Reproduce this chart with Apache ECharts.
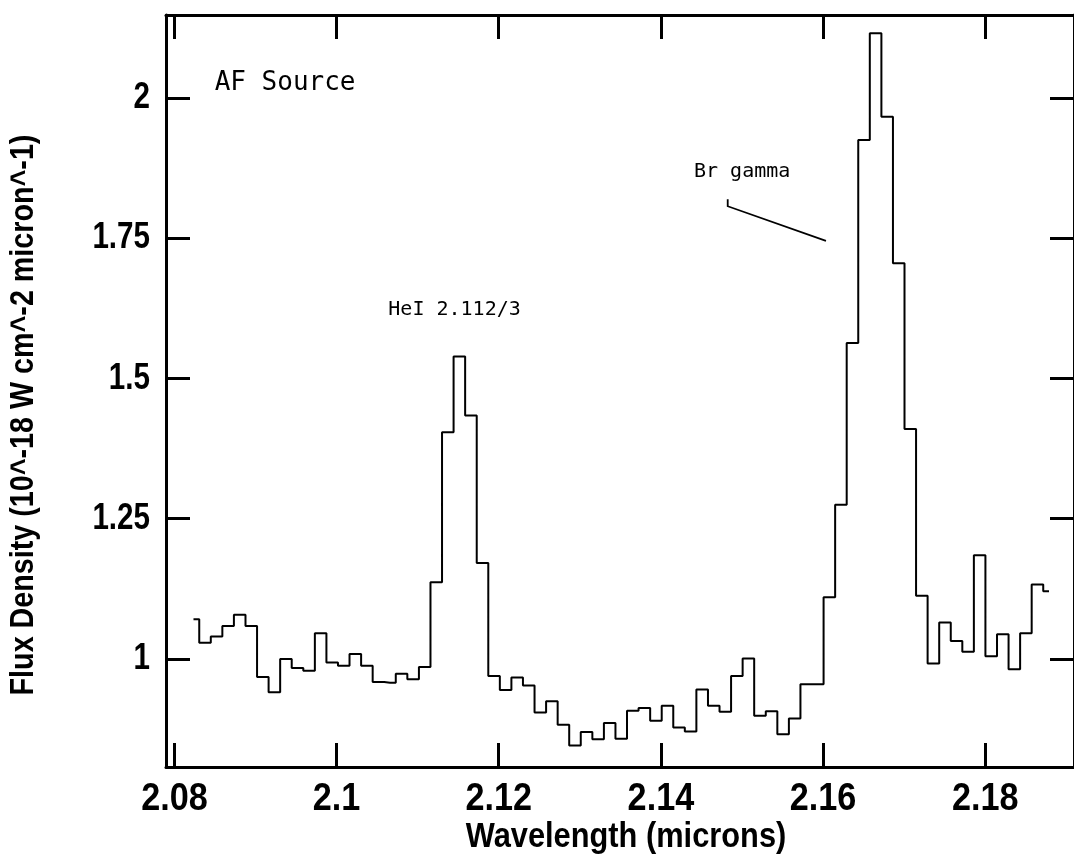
<!DOCTYPE html>
<html><head><meta charset="utf-8">
<script src="https://cdn.jsdelivr.net/npm/echarts@6/dist/echarts.min.js"></script>
<style>html,body{margin:0;padding:0;background:#fff}#c{width:1074px;height:855px}</style>
</head><body><div id="c"></div><script>
// Wavelength grid (microns)
const wavelength = [
2.08235,2.08377,2.08520,2.08662,2.08805,2.08948,2.09090,2.09233,2.09375,2.09518,
2.09661,2.09803,2.09946,2.10088,2.10231,2.10374,2.10516,2.10659,2.10801,2.10944,
2.11087,2.11229,2.11372,2.11514,2.11657,2.11800,2.11942,2.12085,2.12227,2.12370,
2.12513,2.12655,2.12798,2.12940,2.13083,2.13226,2.13368,2.13511,2.13653,2.13796,
2.13939,2.14081,2.14224,2.14366,2.14509,2.14652,2.14794,2.14937,2.15079,2.15222,
2.15365,2.15507,2.15650,2.15792,2.15935,2.16078,2.16220,2.16363,2.16505,2.16648,
2.16791,2.16933,2.17076,2.17218,2.17361,2.17504,2.17646,2.17789,2.17931,2.18074,
2.18217,2.18359,2.18502,2.18644,2.18787];
// Flux density (10^-18 W cm^-2 micron^-1)
const flux = [
1.071,1.029,1.040,1.059,1.079,1.059,0.968,0.941,1.000,0.984,
0.979,1.046,0.994,0.988,1.009,0.988,0.959,0.958,0.974,0.964,
0.986,1.137,1.404,1.539,1.434,1.171,0.970,0.945,0.967,0.953,
0.905,0.925,0.883,0.846,0.870,0.857,0.886,0.858,0.908,0.913,
0.890,0.917,0.878,0.871,0.946,0.917,0.906,0.970,1.001,0.899,
0.907,0.866,0.894,0.955,0.955,1.110,1.275,1.563,1.925,2.115,
1.966,1.705,1.410,1.113,0.992,1.065,1.032,1.013,1.185,1.005,
1.044,0.982,1.046,1.133,1.121];
const xTicks = [2.08,2.10,2.12,2.14,2.16,2.18];
const xTickLabels = ['2.08','2.1','2.12','2.14','2.16','2.18'];
const yTicks = [1,1.25,1.5,1.75,2];
const yTickLabels = ['1','1.25','1.5','1.75','2'];
const xRange = [2.07896, 2.19095];
const yRange = [0.8077, 2.1475];
const xTitle = 'Wavelength (microns)';
const yTitle = 'Flux Density (10^-18 W cm^-2 micron^-1)';
const notes = [
  {text:'AF Source', x:2.08496, y:2.0259, size:26},
  {text:'HeI 2.112/3', x:2.10638, y:1.6216, size:20},
  {text:'Br gamma', x:2.14408, y:1.8674, size:20}
];
const leader = [[2.14824,1.8193],[2.14824,1.8068],[2.16036,1.745]];

const boldFont = "'Liberation Sans',Arial,sans-serif";
const monoFont = "'DejaVu Sans Mono','Liberation Mono',monospace";
const lineStyle = {color:'#000', width:3};
const tick = {show:true, inside:true, length:24, lineStyle:{color:'#000', width:3}};

function xAx(pos){
  return {type:'value', position:pos, min:xRange[0], max:xRange[1],
    axisLine:{show:true, onZero:false, lineStyle},
    axisTick:Object.assign({customValues:xTicks}, tick),
    axisLabel:{show:false}, splitLine:{show:false}};
}
function yAx(pos){
  return {type:'value', position:pos, min:yRange[0], max:yRange[1],
    axisLine:{show:true, onZero:false, lineStyle},
    axisTick:Object.assign({customValues:yTicks}, tick),
    axisLabel:{show:false}, splitLine:{show:false}};
}

const chart = echarts.init(document.getElementById('c'), null, {renderer:'canvas'});
chart.setOption({
  animation:false,
  backgroundColor:'#fff',
  grid:{left:166, top:15, width:915, height:752, containLabel:false},
  xAxis:[xAx('bottom'), xAx('top')],
  yAxis:[yAx('left'), yAx('right')],
  series:[{type:'line', step:'middle', xAxisIndex:0, yAxisIndex:0,
    data:wavelength.map((w,i)=>[w, flux[i]]),
    symbol:'none', lineStyle:{color:'#000', width:2}, clip:true}]
});

const toPx = d => chart.convertToPixel({xAxisIndex:0, yAxisIndex:0}, d);
const g = [];
// tick labels, placed through the axes' own scales
xTicks.forEach((v,i)=>{
  const p = toPx([v, yRange[0]]);
  g.push({type:'text', id:'xl'+i, x:p[0], y:p[1]+33, scaleX:0.9,
    style:{text:xTickLabels[i], fill:'#000', font:"bold 38px "+boldFont,
      align:'center', verticalAlign:'middle'}});
});
yTicks.forEach((v,i)=>{
  const p = toPx([xRange[0], v]);
  g.push({type:'text', id:'yl'+i, x:p[0]-16, y:p[1], scaleX:0.8,
    style:{text:yTickLabels[i], fill:'#000', font:"bold 37px "+boldFont,
      align:'right', verticalAlign:'middle'}});
});
// axis titles
g.push({type:'text', id:'xt', x:626, y:837, scaleX:0.88,
  style:{text:xTitle, fill:'#000', font:"bold 35px "+boldFont, align:'center', verticalAlign:'middle'}});
g.push({type:'text', id:'yt', x:24, y:415, rotation:Math.PI/2, scaleX:0.87,
  style:{text:yTitle, fill:'#000', font:"bold 33px "+boldFont, align:'center', verticalAlign:'middle'}});
// annotations
notes.forEach((n,i)=>{
  const p = toPx([n.x, n.y]);
  g.push({type:'text', id:'n'+i, x:p[0], y:p[1], style:{text:n.text, fill:'#000',
    font:n.size+"px "+monoFont, verticalAlign:'middle', align:'left'}});
});
g.push({type:'polyline', id:'leader', shape:{points:leader.map(toPx)},
  style:{stroke:'#000', lineWidth:1.8, fill:null}});
chart.setOption({graphic:g});
</script></body></html>
